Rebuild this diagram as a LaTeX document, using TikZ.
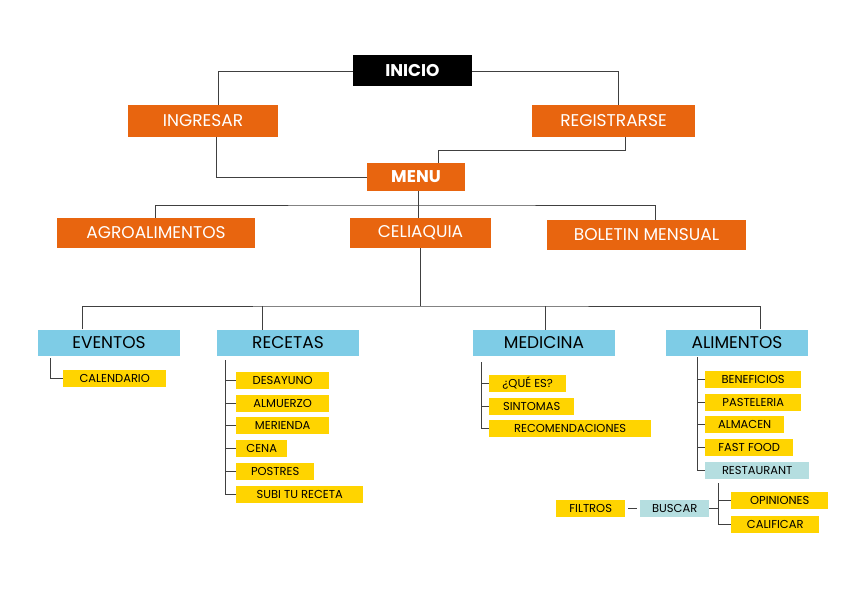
\documentclass[tikz,border=0pt]{standalone}
\usepackage{fontspec}
\setmainfont{Poppins}
\definecolor{naranja}{HTML}{E8650F}
\definecolor{celeste}{HTML}{7ECCE6}
\definecolor{amarillo}{HTML}{FFD400}
\definecolor{turquesa}{HTML}{B5DEE0}
\tikzset{
  mainbox/.style={fill=naranja, text=white, font=\fontsize{17}{17}\selectfont, minimum height=31pt, inner sep=0pt},
  secbox/.style={fill=celeste, text=black, font=\fontsize{17}{17}\selectfont, minimum width=142pt, minimum height=26pt, inner sep=0pt},
  item/.style={fill=amarillo, text=black, font=\fontsize{11.5}{11.5}\selectfont, anchor=west, minimum height=17pt, inner xsep=2pt, inner ysep=0pt},
  itemb/.style={item, fill=turquesa},
  link/.style={draw=black!75, line width=0.8pt}
}
\begin{document}
\begin{tikzpicture}[x=1pt,y=-1pt]
\useasboundingbox (0,0) rectangle (842,596);
% nivel superior
\node[mainbox, fill=black, font=\bfseries\fontsize{17}{17}\selectfont, minimum width=119pt] (inicio) at (412.5,71) {INICIO};
\node[mainbox, minimum width=150pt, minimum height=32pt] (ingresar) at (203,121) {INGRESAR};
\node[mainbox, minimum width=163pt, minimum height=32pt] (registrarse) at (613.5,121) {REGISTRARSE};
\node[mainbox, font=\bfseries\fontsize{17}{17}\selectfont, minimum width=98pt, minimum height=28pt] (menu) at (416,177) {MENU};
\draw[link] (inicio.west) -| (ingresar.north -| 218,0);
\draw[link] (inicio.east) -| (registrarse.north -| 618,0);
\draw[link] (ingresar.south -| 216,0) |- (menu.west);
\draw[link] (registrarse.south -| 625,0) |- (438,150) -- (menu.north -| 438,0);
% menu
\node[mainbox, minimum width=198pt, minimum height=30pt] (agro) at (156,233) {AGROALIMENTOS};
\node[mainbox, minimum width=141pt, minimum height=30pt] (celiaquia) at (420.5,233) {CELIAQUIA};
\node[mainbox, minimum width=199pt, minimum height=30pt] (boletin) at (646.5,235) {BOLETIN MENSUAL};
\coordinate (m1) at (418,205);
\draw[link] (menu.south -| m1) -- (m1);
\draw[link] (agro.north -| 155,0) |- (m1) -| (boletin.north -| 655,0);
\draw[link] (m1) -- (celiaquia.north -| m1);
% celiaquia
\node[secbox] (eventos) at (109,342.5) {EVENTOS};
\node[secbox] (recetas) at (288,343) {RECETAS};
\node[secbox] (medicina) at (544,343) {MEDICINA};
\node[secbox] (alimentos) at (737,342.5) {ALIMENTOS};
\coordinate (c1) at (420,306);
\draw[link] (celiaquia.south -| c1) -- (c1);
\draw[link] (eventos.north -| 82,0) |- (c1) -| (alimentos.north -| 760,0);
\draw[link] (recetas.north -| 262,0) -- (262,306);
\draw[link] (medicina.north -| 545,0) -- (545,306);
% eventos
\node[item, minimum width=103pt] (calendario) at (63,378) {CALENDARIO};
\draw[link] (50,358) |- (calendario.west);
% recetas
\foreach \t/\y/\w [count=\i] in {DESAYUNO/380/93, ALMUERZO/403/93, MERIENDA/425/93, CENA/448/51, POSTRES/471/78, SUBI TU RECETA/494/127}
  {\node[item, minimum width=\w pt] (rec\i) at (236,\y) {\t};
   \draw[link] (225,\y) -- (rec\i.west);}
\draw[link] (225,360) -- (225,494);
% medicina
\foreach \t/\y/\w [count=\i] in {¿QUÉ ES?/383/77, SINTOMAS/406/85, RECOMENDACIONES/428/162}
  {\node[item, minimum width=\w pt] (med\i) at (489,\y) {\t};
   \draw[link] (481,\y) -- (med\i.west);}
\draw[link] (481,362) -- (481,428);
% alimentos
\foreach \t/\y/\w [count=\i] in {BENEFICIOS/379/96, PASTELERIA/402/96, ALMACEN/424/79, FAST FOOD/447/88}
  {\node[item, minimum width=\w pt] (ali\i) at (705,\y) {\t};
   \draw[link] (697,\y) -- (ali\i.west);}
\node[itemb, minimum width=104pt] (restaurant) at (705,470) {RESTAURANT};
\draw[link] (697,357) |- (restaurant.west);
% restaurant
\node[itemb, minimum width=69pt] (buscar) at (640,508) {BUSCAR};
\node[item, minimum width=69pt] (filtros) at (556,508) {FILTROS};
\node[item, minimum width=97pt] (opiniones) at (731,500) {OPINIONES};
\node[item, minimum width=88pt] (calificar) at (731,524) {CALIFICAR};
\draw[link] (filtros.east) ++(3,0) -- ([xshift=-3pt]buscar.west);
\draw[link] (buscar.east) -- (718,508);
\draw[link] (718,483) |- (calificar.west);
\draw[link] (718,500) -- (opiniones.west);
\end{tikzpicture}
\end{document}
